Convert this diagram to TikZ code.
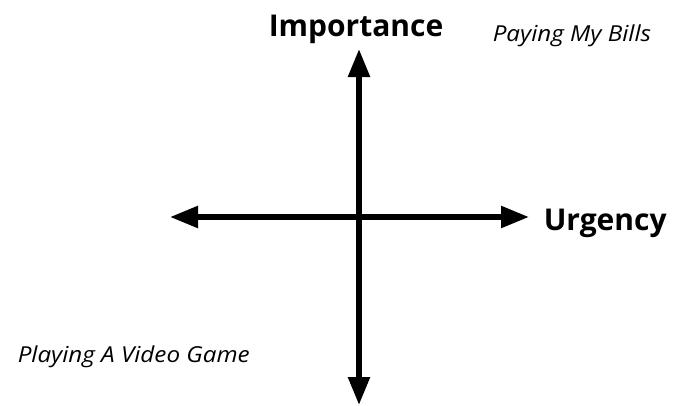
\documentclass[tikz,border=0pt]{standalone}
\usepackage{fontspec}
\setmainfont{Open Sans}
\newfontfamily\taskfont[FakeStretch=1.1]{Open Sans}
\usetikzlibrary{positioning,arrows.meta}

\begin{document}
\begin{tikzpicture}[%
    x=1pt,
    y=-1pt,
    <->,
    >={Triangle[length=28pt,width=21pt]},
    line width=5.5pt,
    axislabel/.style={%
      anchor=base west,
      inner sep=0pt,
      font=\bfseries\fontsize{30}{33}\selectfont
    },
    tasklabel/.style={%
      anchor=base west,
      inner sep=0pt,
      font=\taskfont\itshape\fontsize{22}{25}\selectfont
    }
  ]
    \useasboundingbox (0,0) rectangle (673,405);
    \coordinate (origin) at (359,217);
    \coordinate (top)    at (359,49);
    \coordinate (bottom) at (359,405);
    \coordinate (left)   at (170,217);
    \coordinate (right)  at (529,217);

    \node[axislabel] (importance) at (266,36)  {Importance};
    \node[axislabel] (urgency)    at (541,230) {Urgency};
    \node[tasklabel] (bills)      at (490,41)  {Paying My Bills};
    \node[tasklabel] (game)       at (15,362)  {Playing A Video Game};

    \draw (left) -- (right);
    \draw (bottom) -- (top);
  \end{tikzpicture}
\end{document}
